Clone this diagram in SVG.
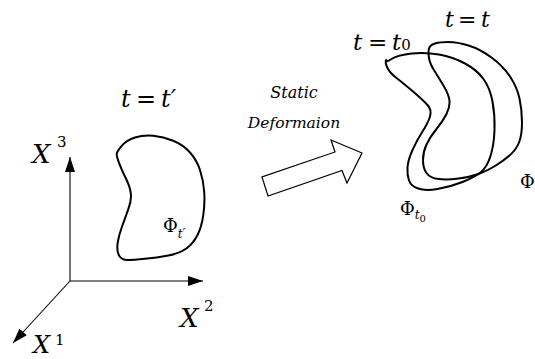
<svg xmlns="http://www.w3.org/2000/svg" width="535" height="359" viewBox="0 0 535 359">
<style>
.ax{stroke:#000;stroke-width:1.1;fill:none}
.blob{stroke:#000;stroke-width:2;fill:none;stroke-linejoin:round}
text{font-family:'DejaVu Serif',serif;fill:#000}
.it{font-style:italic}
.up{font-style:normal}
</style>
<defs>
<marker id="ah" viewBox="0 0 15 10" refX="15" refY="5" markerWidth="15" markerHeight="10" markerUnits="userSpaceOnUse" orient="auto">
<path d="M0,0 L15,5 L0,10 z" fill="#000"/>
</marker>
</defs>
<rect width="535" height="359" fill="#fff"/>
<g id="connectors">
<line class="ax" x1="70" y1="281" x2="70" y2="157" marker-end="url(#ah)"/>
<line class="ax" x1="70" y1="281" x2="203" y2="281" marker-end="url(#ah)"/>
<line class="ax" x1="70" y1="281" x2="13" y2="343" marker-end="url(#ah)"/>
<polygon points="262,177 268,196 342,170.5 347,183 362,153 331,140 335,152" fill="#fff" stroke="#000" stroke-width="1.2" stroke-linejoin="miter"/>
</g>
<g id="axis-labels">
<text class="it" x="32" y="163" font-size="26">X</text><text class="up" x="57" y="147" font-size="15">3</text>
<text class="it" x="180" y="327" font-size="26">X</text><text class="up" x="204" y="311" font-size="15">2</text>
<text class="it" x="33" y="353" font-size="24">X</text><text class="up" x="55" y="345" font-size="15">1</text>
</g>
<g id="label-static">
<text class="it" x="294" y="98" font-size="16" text-anchor="middle">Static</text>
<text class="it" x="294" y="128" font-size="15.5" text-anchor="middle">Deformaion</text>
</g>
<g id="node-tprime">
<text y="107" font-size="24"><tspan class="it" x="121">t</tspan><tspan class="up" x="136">=</tspan><tspan class="it" x="161">t′</tspan></text>
<path class="blob" d="M116.7,154.2 Q116.7,151.7 121.7,145.8 Q126.7,140 135,137.5 Q143.3,135 153.3,135.8 Q163.3,136.7 173.3,140.8 Q183.3,145 190,152.5 Q196.7,160 200,170 Q203.3,180 204.2,191.5 Q205,203 203.3,214.8 Q201.7,226.7 197.5,235 Q193.3,243.3 186.7,248.3 Q180,253.3 168.3,255.5 Q156.7,257.7 145,258.8 Q133.3,260 127.5,260 Q121.7,260 119.2,255.8 Q116.7,251.7 117.5,244.2 Q118.3,236.7 121.7,227.5 Q125,218.3 128.3,209.2 Q131.7,200 130.8,193.3 Q130,186.7 125.8,178.3 Q121.7,170 119.2,163.3 Q116.7,156.7 116.7,154.2 Z"/>
<text x="163" y="232" font-size="18"><tspan class="up">Φ</tspan><tspan class="it" font-size="12" dy="6">t′</tspan></text>
</g>
<g id="node-t0">
<text y="50" font-size="23"><tspan class="it" x="353">t</tspan><tspan class="up" x="368">=</tspan><tspan class="it" x="392">t</tspan><tspan class="up" font-size="15">0</tspan></text>
<path class="blob" d="M386,60 Q385,63 387.5,68 Q390,73 396.5,78 Q403,83 413,91.5 Q423,100 427.5,105 Q432,110 430,116.5 Q428,123 422.5,131.5 Q417,140 412.5,150 Q408,160 407.5,167.5 Q407,175 409,180.5 Q411,186 418,188.5 Q425,191 437.5,189 Q450,187 462.5,182 Q475,177 481,172 Q487,167 490.5,156 Q494,145 494.5,130 Q495,115 492.5,101.5 Q490,88 483.5,79 Q477,70 465,63.5 Q453,57 439,54.5 Q425,52 411.5,53.5 Q398,55 391.5,59 Q385,63 386,60 Z"/>
<text x="400" y="215" font-size="18"><tspan class="up">Φ</tspan><tspan class="it" font-size="12" dy="4">t</tspan><tspan class="up" font-size="10" dy="3">0</tspan></text>
</g>
<g id="node-t">
<text y="27" font-size="22"><tspan class="it" x="445">t</tspan><tspan class="up" x="458">=</tspan><tspan class="it" x="481">t</tspan></text>
<path class="blob" d="M429,48.5 Q430,45 435,43.5 Q440,42 448.5,42 Q457,42 468.5,45.5 Q480,49 491.5,57.5 Q503,66 510,76.5 Q517,87 519.5,98.5 Q522,110 522,122.5 Q522,135 519,142.5 Q516,150 509.5,155.5 Q503,161 495,166 Q487,171 478.5,174 Q470,177 458.5,178.5 Q447,180 438.5,179 Q430,178 426.5,173 Q423,168 423,160 Q423,152 426.5,144.5 Q430,137 436.5,129 Q443,121 446.5,114 Q450,107 449.5,101 Q449,95 444,86.5 Q439,78 434.5,71 Q430,64 429,58 Q428,52 429,48.5 Z"/>
<text class="up" x="520" y="188" font-size="18">Φ</text>
</g>
</svg>
